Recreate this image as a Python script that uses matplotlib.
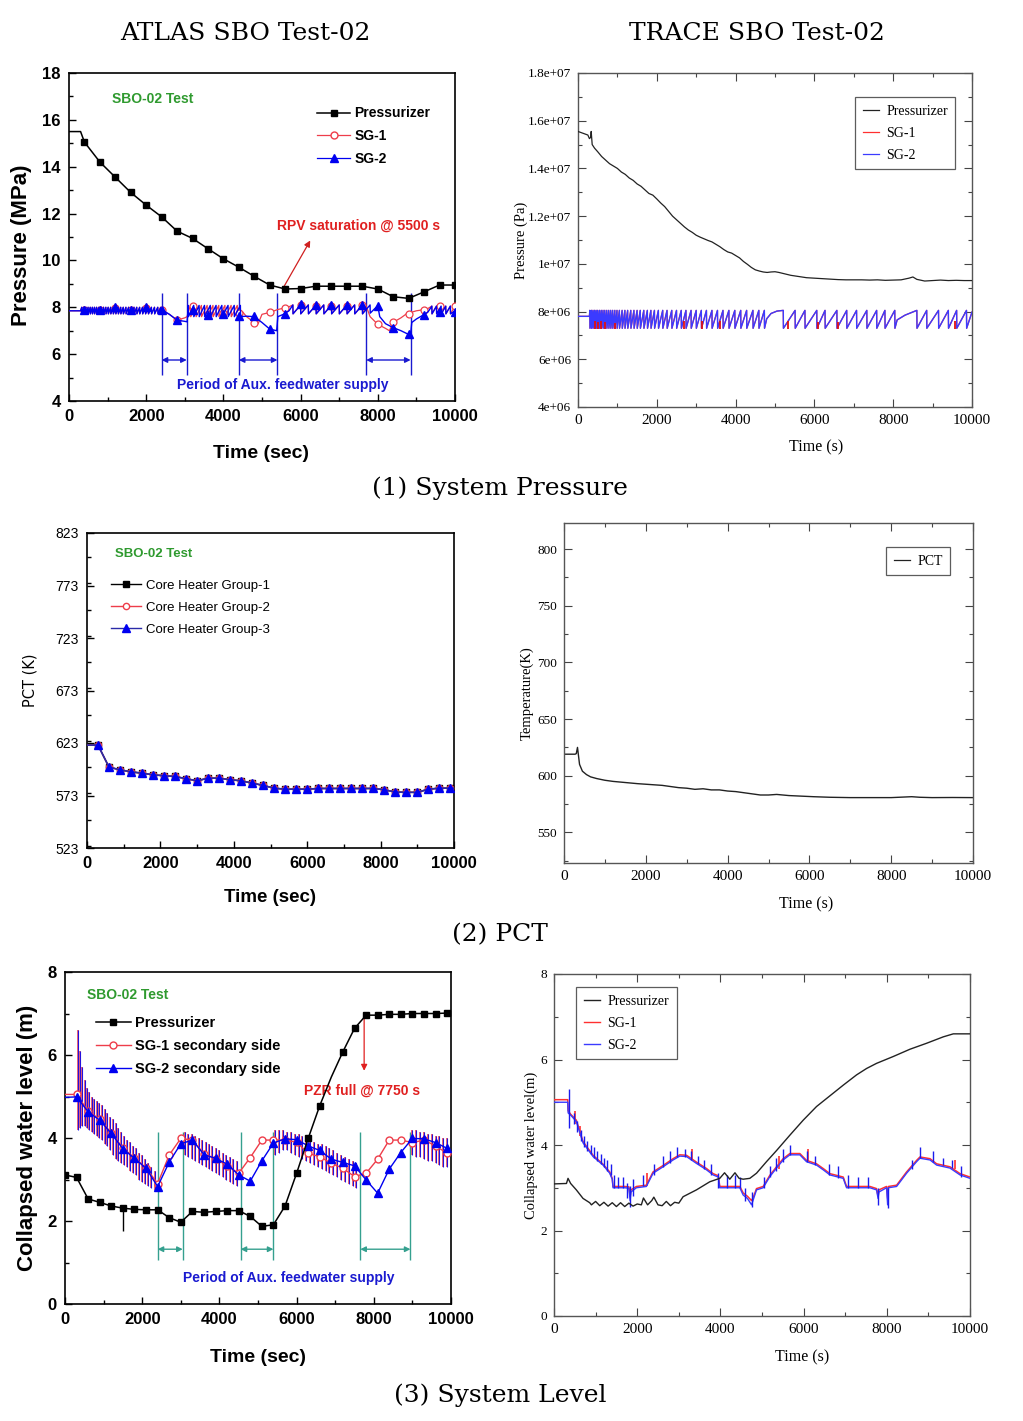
import matplotlib
matplotlib.use("Agg")
import matplotlib.pyplot as plt
from matplotlib.lines import Line2D
from matplotlib.ticker import MultipleLocator

W, H = 1023, 1421

# ---------------- shared ticks ----------------
time_ticks = [0, 2000, 4000, 6000, 8000, 10000]
time_labels = ['0', '2000', '4000', '6000', '8000', '10000']

# ================= (1) ATLAS system pressure [MPa] =================
p1_pzr_t = [0, 300, 400, 800, 1200, 1600, 2000, 2400, 2800, 3200,
            3600, 4000, 4400, 4800, 5200, 5600, 6000, 6400, 6800, 7200,
            7600, 8000, 8400, 8800, 9200, 9600, 10000]
p1_pzr_v = [15.5, 15.5, 15.05, 14.2, 13.55, 12.9, 12.36, 11.86, 11.25, 10.94,
            10.5, 10.07, 9.71, 9.32, 8.95, 8.78, 8.8, 8.9, 8.9, 8.9,
            8.9, 8.78, 8.45, 8.38, 8.66, 8.95, 8.95]

p1_pre_t = [0, 300]
p1_pre_v = [7.85, 7.85]
p1_sawA_drops = [330, 385, 440, 495, 550, 605, 660, 715, 775, 835,
                 895, 955, 1015, 1080, 1145, 1210, 1275, 1340, 1405, 1475,
                 1545, 1615, 1685, 1755, 1830, 1905, 1980, 2055, 2135, 2215,
                 2300, 2380]
p1_sawA_lev = [8.0, 7.72]
p1_sawB2_drops = [3090, 3230, 3370, 3510, 3660, 3810, 3960, 4120, 4280, 4440]
p1_sawB1_drops = [3150, 3290, 3430, 3580, 3730, 3880, 4040, 4200, 4360]
p1_sawB_lev = [8.08, 7.6]
p1_sawC_drops = [5800, 6000, 6200, 6400, 6600, 6800, 7000, 7200, 7400, 7600]
p1_sawC_lev = [8.1, 7.72]
p1_sawD_drops = [9400, 9520, 9640, 9760, 9880]
p1_sawD_lev = [8.05, 7.72]

p1_sg2_afw1_t = [2400, 2600, 2800, 3000, 3060]
p1_sg2_afw1_v = [7.9, 7.7, 7.45, 7.4, 7.38]
p1_sg2_afw2_t = [4600, 4800, 5000, 5200, 5380, 5410, 5570, 5700]
p1_sg2_afw2_v = [7.62, 7.6, 7.35, 7.07, 7.0, 7.6, 7.71, 7.85]
p1_sg2_afw3_t = [7800, 7804, 8000, 8050, 8200, 8400, 8600, 8800, 8850, 8880, 9000, 9200, 9300]
p1_sg2_afw3_v = [8.1, 7.75, 8.07, 7.6, 7.3, 7.13, 7.0, 6.84, 6.86, 7.35, 7.5, 7.69, 7.8]
p1_sg2_end_t = [10000]
p1_sg2_end_v = [7.85]

p1_sg1_afw1_t = [2400, 2600, 2800, 3000, 3060, 3120]
p1_sg1_afw1_v = [7.88, 7.7, 7.45, 7.55, 7.6, 7.95]
p1_sg1_afw2_t = [4500, 4600, 4800, 4900, 5000, 5200, 5400, 5600, 5700]
p1_sg1_afw2_v = [7.8, 7.6, 7.35, 7.3, 7.7, 7.78, 7.9, 7.98, 8.02]
p1_sg1_afw3_t = [7700, 7800, 8000, 8200, 8300, 8400, 8600, 8750, 9000, 9200, 9300]
p1_sg1_afw3_v = [8.05, 7.6, 7.27, 7.1, 7.0, 7.36, 7.55, 7.73, 7.85, 7.9, 7.95]
p1_sg1_end_t = [10000]
p1_sg1_end_v = [8.05]

p1_mk_t = [400, 800, 1200, 1600, 2000, 2400, 2800, 3200, 3600, 4000,
           4400, 4800, 5200, 5600, 6000, 6400, 6800, 7200, 7600, 8000,
           8400, 8800, 9200, 9600, 10000]
p1_sg1_mk = [7.9, 7.9, 7.95, 7.9, 7.95, 7.88, 7.45, 8.05, 7.7, 7.75,
             7.75, 7.35, 7.78, 7.95, 8.1, 8.05, 8.05, 8.05, 8.08, 7.27,
             7.36, 7.73, 7.9, 8.07, 8.05]
p1_sg2_mk = [7.9, 7.9, 8.0, 7.9, 8.0, 7.88, 7.45, 7.9, 7.65, 7.7,
             7.62, 7.62, 7.08, 7.71, 8.12, 8.08, 8.08, 8.08, 8.1, 8.07,
             7.13, 6.84, 7.69, 7.8, 7.8]
p1_afw_start = [2400, 4400, 7700]
p1_afw_end = [3050, 5400, 8850]

# ================= (1) TRACE system pressure [Pa] =================
p2_pzr_t = [0, 250, 290, 320, 335, 360, 420, 500, 600, 700,
            800, 900, 1000, 1100, 1200, 1300, 1400, 1500, 1600, 1700,
            1800, 1900, 2000, 2100, 2200, 2300, 2400, 2500, 2600, 2700,
            2800, 2900, 3000, 3100, 3200, 3300, 3400, 3500, 3600, 3700,
            3800, 3900, 4000, 4100, 4200, 4300, 4400, 4500, 4600, 4700,
            4800, 4900, 5000, 5100, 5200, 5400, 5600, 5800, 6000, 6200,
            6400, 6600, 6800, 7000, 7200, 7400, 7600, 7800, 8000, 8200,
            8400, 8500, 8600, 8800, 9000, 9200, 9400, 9600, 9800, 10000]
p2_pzr_v = [15.55e6, 15.4e6, 15.25e6, 15.3e6, 15.55e6, 15.0e6, 14.85e6, 14.7e6, 14.5e6, 14.35e6,
            14.2e6, 14.1e6, 14.0e6, 13.85e6, 13.75e6, 13.6e6, 13.5e6, 13.35e6, 13.25e6, 13.1e6,
            12.95e6, 12.88e6, 12.72e6, 12.55e6, 12.4e6, 12.2e6, 12.0e6, 11.85e6, 11.7e6, 11.55e6,
            11.42e6, 11.32e6, 11.2e6, 11.12e6, 11.05e6, 10.98e6, 10.92e6, 10.82e6, 10.72e6, 10.6e6,
            10.5e6, 10.45e6, 10.35e6, 10.25e6, 10.1e6, 9.98e6, 9.85e6, 9.75e6, 9.7e6, 9.66e6,
            9.64e6, 9.66e6, 9.67e6, 9.64e6, 9.6e6, 9.52e6, 9.47e6, 9.42e6, 9.40e6, 9.38e6,
            9.36e6, 9.34e6, 9.33e6, 9.33e6, 9.33e6, 9.32e6, 9.33e6, 9.31e6, 9.32e6, 9.33e6,
            9.40e6, 9.45e6, 9.35e6, 9.28e6, 9.30e6, 9.32e6, 9.30e6, 9.31e6, 9.30e6, 9.30e6]
p2_sg_pre_t = [0, 290]
p2_sg_pre_v = [7.8e6, 7.8e6]
p2_drops_a = [300, 340, 380, 420, 460, 500, 545, 590, 635, 680,
              730, 780, 830, 880, 935, 990, 1050, 1120, 1190, 1260,
              1340, 1420, 1500, 1580, 1670, 1760, 1850, 1940, 2040, 2150,
              2260, 2380, 2500, 2620, 2740, 2870, 3000, 3130, 3260, 3400,
              3540, 3680, 3830, 3980, 4130, 4280, 4440, 4590, 4730]
p2_hump1_t = [4790, 4900, 5050]
p2_hump1_v = [7.7e6, 7.92e6, 8.02e6]
p2_drops_b = [5210, 5510, 5760, 6060, 6270, 6570, 6820, 7070, 7330, 7580, 7790, 8040]
p2_hump2_t = [8100, 8300, 8500]
p2_hump2_v = [7.65e6, 7.85e6, 7.98e6]
p2_drops_c = [8600, 8850, 9150, 9400, 9610, 9860]
p2_sg_lev = [8.05e6, 7.3e6]
p2_sg_end_t = [10000]
p2_sg_end_v = [7.98e6]
p2_sg1_spk_t = [420, 500, 590, 680, 950, 2700, 3150, 3610, 5340, 6100, 6600, 9560]
p2_sg1_spk_lo = [7.25e6, 7.25e6, 7.25e6, 7.25e6, 7.25e6, 7.25e6, 7.25e6, 7.25e6, 7.25e6, 7.25e6, 7.25e6, 7.25e6]
p2_sg1_spk_hi = [7.6e6, 7.55e6, 7.6e6, 7.55e6, 7.5e6, 7.6e6, 7.6e6, 7.6e6, 7.6e6, 7.55e6, 7.55e6, 7.6e6]
p2_yticks = [4e6, 6e6, 8e6, 1e7, 1.2e7, 1.4e7, 1.6e7, 1.8e7]
p2_ylabels = ['4e+06', '6e+06', '8e+06', '1e+07', '1.2e+07', '1.4e+07', '1.6e+07', '1.8e+07']

# ================= (2) ATLAS PCT [K] =================
p3_t = [0, 300, 600, 900, 1200, 1500, 1800, 2100, 2400, 2700,
        3000, 3300, 3600, 3900, 4200, 4500, 4800, 5100, 5400, 5700,
        6000, 6300, 6600, 6900, 7200, 7500, 7800, 8100, 8400, 8700,
        9000, 9300, 9600, 9900, 10000]
p3_g3_v = [621, 621, 600, 597.5, 595.5, 594.3, 592.7, 591.8, 591.1, 589,
           587, 589.5, 589.5, 588, 587, 584.8, 582.6, 580, 579, 579,
           579, 579.7, 579.7, 579.7, 579.7, 579.7, 579.7, 578.5, 576.3, 576,
           576, 579, 580, 580, 580]
p3_g1_v = p3_g3_v   # the three heater groups coincide at this resolution
p3_g2_v = p3_g3_v
p3_yticks = [523, 573, 623, 673, 723, 773, 823]
p3_ylabels = ['523', '573', '623', '673', '723', '773', '823']

# ================= (2) TRACE PCT [K] =================
p4_t = [0, 270, 300, 330, 380, 450, 550, 650, 800, 1000,
        1200, 1500, 1800, 2000, 2200, 2400, 2600, 2800, 3000, 3200,
        3400, 3600, 3800, 4000, 4200, 4400, 4600, 4800, 5000, 5200,
        5500, 5800, 6100, 6500, 7000, 7500, 8000, 8500, 8700, 9000,
        9500, 10000]
p4_v = [619, 619, 619.5, 625, 610, 604, 601, 599, 597.5, 596,
        595, 594, 593, 592.5, 592, 591.5, 590.5, 589.5, 589, 588,
        588.5, 587.5, 587.5, 586.5, 586, 585, 584, 583, 583, 583.5,
        582.5, 582, 581.5, 581, 580.7, 580.7, 580.7, 581.5, 581, 580.7,
        580.8, 580.7]
p4_yticks = [550, 600, 650, 700, 750, 800]
p4_ylabels = ['550', '600', '650', '700', '750', '800']

# ================= (3) ATLAS collapsed level [m] =================
p5_t = [0, 300, 600, 900, 1200, 1500, 1800, 2100, 2400, 2700,
        3000, 3300, 3600, 3900, 4200, 4500, 4800, 5100, 5400, 5700,
        6000, 6300, 6600, 6900, 7200, 7500, 7800, 8100, 8400, 8700,
        9000, 9300, 9600, 9900]
p5_pzr_v = [3.11, 3.05, 2.53, 2.45, 2.36, 2.31, 2.28, 2.27, 2.27, 2.08,
            1.97, 2.23, 2.21, 2.23, 2.25, 2.25, 2.11, 1.87, 1.91, 2.36,
            3.15, 3.99, 4.78, 5.47, 6.08, 6.64, 6.96, 6.96, 6.98, 6.98,
            7.0, 7.0, 7.0, 7.01]
p5_sg1_v = [5.05, 5.05, 4.65, 4.45, 4.12, 3.76, 3.52, 3.28, 2.9, 3.59,
            3.99, 3.95, 3.62, 3.5, 3.33, 3.15, 3.53, 3.95, 3.95, 3.95,
            3.9, 3.63, 3.55, 3.39, 3.27, 3.07, 3.15, 3.49, 3.95, 3.95,
            3.89, 3.95, 3.81, 3.63]
p5_sg2_v = [4.98, 4.99, 4.63, 4.43, 4.11, 3.74, 3.51, 3.27, 2.83, 3.42,
            3.86, 3.95, 3.6, 3.51, 3.37, 3.11, 2.96, 3.45, 3.88, 3.98,
            3.96, 3.81, 3.7, 3.49, 3.41, 3.33, 2.99, 2.67, 3.25, 3.65,
            3.99, 3.98, 3.89, 3.75]
p5_spk_t = [340, 390, 450, 510, 570, 630, 690, 750, 820, 890,
            960, 1030, 1100, 1170, 1240, 1310, 1380, 1450, 1520, 1600,
            1680, 1760, 1840, 1920, 2000, 2080, 2160, 2240, 2320, 3100,
            3190, 3280, 3370, 3460, 3550, 3640, 3730, 3820, 3910, 4000,
            4090, 4180, 4270, 4360, 4450, 5450, 5550, 5650, 5750, 5850,
            5950, 6050, 6150, 6250, 6350, 6450, 6550, 6650, 6750, 6850,
            6950, 7050, 7150, 7250, 7350, 7450, 7550, 9000, 9100, 9200,
            9300, 9400, 9500, 9600, 9700, 9800, 9900]
p5_spk_lo = [4.2, 4.25, 4.3, 4.3, 4.25, 4.2, 4.15, 4.1, 4.05, 4.0,
             3.95, 3.85, 3.8, 3.7, 3.6, 3.5, 3.45, 3.4, 3.35, 3.3,
             3.2, 3.15, 3.1, 3.0, 2.95, 2.9, 2.85, 2.8, 2.75, 3.6,
             3.55, 3.5, 3.45, 3.4, 3.35, 3.3, 3.25, 3.2, 3.15, 3.1,
             3.05, 3.0, 2.95, 2.9, 2.85, 3.6, 3.65, 3.7, 3.7, 3.65,
             3.6, 3.55, 3.5, 3.45, 3.4, 3.35, 3.3, 3.25, 3.2, 3.15,
             3.1, 3.05, 3.0, 2.95, 2.9, 2.85, 2.8, 3.6, 3.55, 3.55,
             3.5, 3.45, 3.45, 3.4, 3.35, 3.3, 3.3]
p5_spk_hi = [6.6, 6.1, 5.7, 5.4, 5.2, 5.1, 5.0, 4.95, 4.9, 4.85,
             4.8, 4.7, 4.6, 4.5, 4.45, 4.35, 4.25, 4.15, 4.05, 3.95,
             3.9, 3.8, 3.75, 3.65, 3.6, 3.5, 3.4, 3.3, 3.2, 4.15,
             4.1, 4.1, 4.05, 4.0, 3.95, 3.9, 3.85, 3.8, 3.75, 3.7,
             3.65, 3.6, 3.55, 3.5, 3.45, 4.2, 4.2, 4.2, 4.15, 4.15,
             4.1, 4.1, 4.05, 4.0, 3.95, 3.9, 3.85, 3.85, 3.8, 3.75,
             3.7, 3.65, 3.6, 3.55, 3.5, 3.45, 3.4, 4.2, 4.2, 4.15,
             4.15, 4.1, 4.1, 4.05, 4.05, 4.0, 4.0]
p5_pzr_spk_t = [1490]
p5_pzr_spk_lo = [1.75]
p5_pzr_spk_hi = [2.31]
p5_afw_start = [2400, 4550, 7650]
p5_afw_end = [3050, 5400, 8950]

# ================= (3) TRACE collapsed level [m] =================
p6_pzr_t = [0, 300, 337, 400, 537, 698, 858, 900, 1000, 1100,
            1200, 1300, 1400, 1500, 1600, 1700, 1800, 1900, 2000, 2100,
            2150, 2250, 2350, 2400, 2500, 2600, 2700, 2800, 2900, 3000,
            3103, 3424, 3745, 3985, 4100, 4226, 4350, 4450, 4547, 4707,
            4868, 5108, 5349, 5670, 5990, 6311, 6632, 6953, 7273, 7514,
            7754, 8155, 8556, 8957, 9358, 9599, 10000]
p6_pzr_v = [3.09, 3.1, 3.22, 3.1, 2.95, 2.75, 2.65, 2.6, 2.68, 2.58,
            2.66, 2.57, 2.65, 2.56, 2.65, 2.56, 2.64, 2.57, 2.62, 2.6,
            2.76, 2.6, 2.7, 2.78, 2.6, 2.58, 2.68, 2.58, 2.66, 2.64,
            2.79, 2.95, 3.14, 3.22, 3.35, 3.2, 3.35, 3.22, 3.2, 3.22,
            3.34, 3.61, 3.87, 4.23, 4.58, 4.9, 5.15, 5.4, 5.64, 5.79,
            5.91, 6.07, 6.24, 6.38, 6.53, 6.6, 6.6]
p6_sg_t = [0, 330, 340, 400, 537, 698, 938, 1179, 1339, 1400,
           1419, 1700, 1800, 1830, 1850, 1981, 2221, 2381, 2622, 2863,
           3023, 3184, 3424, 3665, 3825, 3950, 3985, 4467, 4547, 4650,
           4750, 4800, 4868, 5028, 5188, 5349, 5509, 5670, 5910, 6070,
           6311, 6471, 6632, 6953, 7033, 7594, 7754, 7790, 7810, 7995,
           8020, 8040, 8236, 8476, 8716, 8797, 9038, 9198, 9519, 9760,
           10000]
p6_sg2_v = [5.0, 5.0, 4.75, 4.7, 4.55, 4.05, 3.73, 3.53, 3.34, 3.2,
            3.0, 3.0, 2.99, 2.7, 2.9, 3.0, 3.03, 3.34, 3.49, 3.65,
            3.74, 3.73, 3.57, 3.42, 3.3, 3.25, 3.0, 3.0, 2.83, 2.75,
            2.6, 2.75, 2.95, 3.0, 3.26, 3.46, 3.65, 3.77, 3.77, 3.61,
            3.53, 3.42, 3.3, 3.22, 3.0, 3.0, 2.95, 2.75, 2.9, 3.0,
            2.6, 3.0, 3.03, 3.34, 3.61, 3.69, 3.65, 3.53, 3.46, 3.3,
            3.22]
p6_sg1_v = [5.06, 5.06, 4.8, 4.72, 4.58, 4.08, 3.76, 3.55, 3.37, 3.22,
            3.03, 3.03, 3.02, 2.8, 2.95, 3.03, 3.06, 3.37, 3.52, 3.68,
            3.77, 3.76, 3.6, 3.45, 3.33, 3.28, 3.03, 3.03, 2.88, 2.8,
            2.7, 2.8, 2.98, 3.03, 3.29, 3.49, 3.68, 3.8, 3.8, 3.64,
            3.56, 3.45, 3.33, 3.25, 3.03, 3.03, 2.98, 2.8, 2.95, 3.03,
            2.75, 3.03, 3.06, 3.37, 3.64, 3.72, 3.68, 3.56, 3.49, 3.33,
            3.25]
p6_spk_t = [360, 480, 560, 640, 720, 800, 880, 960, 1040, 1120,
            1200, 1280, 1360, 1450, 1550, 1650, 1750, 1830, 1900, 2150,
            2400, 2620, 2780, 2950, 3150, 3300, 3450, 3600, 3780, 3950,
            4150, 4350, 4480, 4600, 4750, 5050, 5200, 5330, 5500, 5680,
            6080, 6280, 6600, 6830, 7060, 7300, 7540, 7790, 8020, 8600,
            8800, 9100, 9340, 9570, 9780]
p6_spk_lo = [4.4, 4.5, 4.3, 4.1, 3.95, 3.85, 3.78, 3.7, 3.62, 3.55,
             3.48, 3.4, 3.3, 3.0, 3.0, 3.0, 2.75, 2.55, 2.8, 3.03,
             3.3, 3.48, 3.58, 3.72, 3.72, 3.65, 3.55, 3.45, 3.3, 3.0,
             3.0, 3.0, 3.0, 2.7, 2.55, 3.0, 3.25, 3.4, 3.6, 3.77,
             3.6, 3.53, 3.3, 3.22, 3.0, 3.0, 3.0, 2.6, 2.52, 3.45,
             3.69, 3.6, 3.53, 3.46, 3.25]
p6_spk_hi = [5.3, 4.75, 4.55, 4.35, 4.2, 4.1, 4.0, 3.95, 3.85, 3.78,
             3.7, 3.65, 3.55, 3.3, 3.25, 3.25, 3.1, 3.05, 3.2, 3.3,
             3.55, 3.75, 3.85, 3.95, 3.9, 3.85, 3.75, 3.65, 3.55, 3.35,
             3.3, 3.3, 3.25, 3.0, 2.9, 3.25, 3.5, 3.7, 3.9, 4.0,
             3.85, 3.75, 3.55, 3.5, 3.3, 3.25, 3.25, 3.0, 3.0, 3.65,
             3.95, 3.85, 3.7, 3.65, 3.5]
p6_rspk_t = [500, 620, 2230, 3310, 5420, 6110, 9650]
p6_rspk_lo = [4.5, 4.2, 3.05, 3.65, 3.45, 3.62, 3.43]
p6_rspk_hi = [4.8, 4.45, 3.35, 3.9, 3.75, 3.9, 3.65]
level_ticks = [0, 2, 4, 6, 8]
level_labels = ['0', '2', '4', '6', '8']
p1_yticks = [4, 6, 8, 10, 12, 14, 16, 18]
p1_ylabels = ['4', '6', '8', '10', '12', '14', '16', '18']

# ---------------- helpers ----------------
SANS = ['Liberation Sans', 'DejaVu Sans']
SERIF = ['Liberation Serif', 'DejaVu Serif']
TITLEF = ['DejaVu Serif']
GREEN = '#2f9a2f'
AFWBLUE = '#1a1ad0'
TEAL = '#35a08f'
A_RED = '#ee3d4a'
A_BLUE = '#0000f0'
T_RED = '#ff3030'
T_BLUE = '#3b3bff'
T_BLACK = '#222222'


def saw(drops, hi, lo):
    t, v = [], []
    for d in drops:
        t += [d, d + 4]
        v += [hi, lo]
    return t, v


def cat(*parts):
    t, v = [], []
    for pt, pv in parts:
        t += list(pt)
        v += list(pv)
    return t, v


def rect(l, t, r, b):
    return [l / W, 1 - b / H, (r - l) / W, (b - t) / H]


fig = plt.figure(figsize=(W / 100, H / 100), dpi=100)
fig.patch.set_facecolor('white')


def ftext(x, y, s, **kw):
    kw.setdefault('ha', 'center')
    kw.setdefault('va', 'center')
    fig.text(x / W, 1 - y / H, s, **kw)


def style_atlas(ax, yticks, ylabels, ylim, yminor, yfont):
    ax.set_xlim(0, 10000)
    ax.set_ylim(*ylim)
    ax.set_xticks(time_ticks, time_labels, fontsize=12, fontweight='bold', family=SANS)
    ax.set_yticks(yticks, ylabels, **yfont)
    ax.xaxis.set_minor_locator(MultipleLocator(1000))
    ax.yaxis.set_minor_locator(MultipleLocator(yminor))
    ax.tick_params(which='both', direction='in', top=False, right=False, width=1.0)
    ax.tick_params(which='major', length=5, pad=6)
    ax.tick_params(which='minor', length=3)
    for s in ax.spines.values():
        s.set_linewidth(1.2)


def style_trace(ax, yticks, ylabels, ylim, yminor):
    ax.set_xlim(0, 10000)
    ax.set_ylim(*ylim)
    ax.set_xticks(time_ticks, time_labels, fontsize=11, family=SERIF)
    ax.set_yticks(yticks, ylabels, fontsize=9.5, family=SERIF)
    ax.xaxis.set_minor_locator(MultipleLocator(1000))
    ax.yaxis.set_minor_locator(MultipleLocator(yminor))
    ax.tick_params(which='both', direction='in', top=True, right=True, width=0.8,
                   color='#444444')
    ax.tick_params(which='major', length=6, pad=5)
    ax.tick_params(which='minor', length=3)
    for s in ax.spines.values():
        s.set_linewidth(1.0)
        s.set_color('#555555')


def trace_legend(ax, handles, labels, anchor):
    lg = ax.legend(handles, labels, loc='upper left', bbox_to_anchor=anchor,
                   borderaxespad=0, fancybox=False, edgecolor='#333333',
                   handlelength=1.2, handletextpad=0.5, labelspacing=0.65,
                   borderpad=0.55, prop=dict(family=SERIF, size=10))
    lg.get_frame().set_linewidth(0.9)
    return lg


# ================= Panel 1 =================
ax1 = fig.add_axes(rect(69, 73, 455, 401))
style_atlas(ax1, p1_yticks, p1_ylabels, (4, 18), 1,
            dict(fontsize=12, fontweight='bold', family=SANS))
sg1 = cat((p1_pre_t, p1_pre_v), saw(p1_sawA_drops, *p1_sawA_lev),
          (p1_sg1_afw1_t, p1_sg1_afw1_v), saw(p1_sawB1_drops, *p1_sawB_lev),
          (p1_sg1_afw2_t, p1_sg1_afw2_v), saw(p1_sawC_drops, *p1_sawC_lev),
          (p1_sg1_afw3_t, p1_sg1_afw3_v), saw(p1_sawD_drops, *p1_sawD_lev),
          (p1_sg1_end_t, p1_sg1_end_v))
sg2 = cat((p1_pre_t, p1_pre_v), saw(p1_sawA_drops, *p1_sawA_lev),
          (p1_sg2_afw1_t, p1_sg2_afw1_v), saw(p1_sawB2_drops, *p1_sawB_lev),
          (p1_sg2_afw2_t, p1_sg2_afw2_v), saw(p1_sawC_drops, *p1_sawC_lev),
          (p1_sg2_afw3_t, p1_sg2_afw3_v), saw(p1_sawD_drops, *p1_sawD_lev),
          (p1_sg2_end_t, p1_sg2_end_v))
ax1.plot(sg1[0], sg1[1], color=A_RED, lw=0.9, zorder=3)
ax1.plot(p1_mk_t, p1_sg1_mk, ls='none', marker='o', ms=5, mfc='white', mec=A_RED,
         mew=0.9, zorder=4)
ax1.plot(sg2[0], sg2[1], color=A_BLUE, lw=1.0, zorder=5)
ax1.plot(p1_mk_t, p1_sg2_mk, ls='none', marker='^', ms=6, color=A_BLUE, zorder=6)
ax1.plot(p1_pzr_t, p1_pzr_v, color='black', lw=1.1, marker='s', ms=5,
         markevery=slice(2, None), zorder=7)
ax1.vlines(p1_afw_start + p1_afw_end, 5.1, 8.6, color=AFWBLUE, lw=1.0, zorder=2)
for a, b in zip(p1_afw_start, p1_afw_end):
    ax1.annotate('', xy=(a, 5.75), xytext=(b, 5.75),
                 arrowprops=dict(arrowstyle='<|-|>', color=AFWBLUE, lw=1.0,
                                 mutation_scale=8, shrinkA=0, shrinkB=0))
ax1.text(5535, 4.7, 'Period of Aux. feedwater supply', color=AFWBLUE, fontsize=10,
         fontweight='bold', family=SANS, ha='center', va='center')
ax1.annotate('', xy=(6250, 10.85), xytext=(5540, 8.8),
             arrowprops=dict(arrowstyle='-|>', color='#d02020', lw=0.9,
                             mutation_scale=9, shrinkA=0, shrinkB=0))
ax1.text(7490, 11.49, 'RPV saturation @ 5500 s', color='#e02020', fontsize=10,
         fontweight='bold', family=SANS, ha='center', va='center')
ax1.text(0.111, 0.921, 'SBO-02 Test', transform=ax1.transAxes, color=GREEN,
         fontsize=10, fontweight='bold', family=SANS, ha='left', va='center')
h1 = [Line2D([], [], color='black', marker='s', ms=5, lw=1.1),
      Line2D([], [], color=A_RED, marker='o', ms=5, mfc='white', mec=A_RED, lw=0.9),
      Line2D([], [], color=A_BLUE, marker='^', ms=6, lw=0.9)]
ax1.legend(h1, ['Pressurizer', 'SG-1', 'SG-2'], loc='upper left',
           bbox_to_anchor=(0.628, 0.915), frameon=False, borderaxespad=0,
           handlelength=2.4, handletextpad=0.3, labelspacing=0.62,
           prop=dict(family=SANS, weight='bold', size=10))
ftext(22, 245, 'Pressure (MPa)', rotation=90, fontsize=16, fontweight='bold', family=SANS)
ftext(261, 453, 'Time (sec)', fontsize=14, fontweight='bold', family=SANS)

# ================= Panel 2 =================
ax2 = fig.add_axes(rect(578, 73, 972, 407))
style_trace(ax2, p2_yticks, p2_ylabels, (4e6, 1.8e7), 1e6)
sgT = cat((p2_sg_pre_t, p2_sg_pre_v), saw(p2_drops_a, *p2_sg_lev),
          (p2_hump1_t, p2_hump1_v), saw(p2_drops_b, *p2_sg_lev),
          (p2_hump2_t, p2_hump2_v), saw(p2_drops_c, *p2_sg_lev),
          (p2_sg_end_t, p2_sg_end_v))
ax2.plot(sgT[0], sgT[1], color=T_RED, lw=0.9, zorder=3)
ax2.plot(sgT[0], sgT[1], color=T_BLUE, lw=1.0, zorder=4)
ax2.vlines(p2_sg1_spk_t, p2_sg1_spk_lo, p2_sg1_spk_hi, color='#e01010', lw=1.3, zorder=5)
ax2.plot(p2_pzr_t, p2_pzr_v, color=T_BLACK, lw=0.9, zorder=6)
h2 = [Line2D([], [], color=T_BLACK, lw=0.9), Line2D([], [], color=T_RED, lw=0.9),
      Line2D([], [], color=T_BLUE, lw=0.9)]
trace_legend(ax2, h2, ['Pressurizer', 'SG-1', 'SG-2'], (0.703, 0.928))
ftext(521, 240, 'Pressure (Pa)', rotation=90, fontsize=10.5, family=SERIF)
ftext(816, 447, 'Time (s)', fontsize=11.5, family=SERIF)

# ================= Panel 3 =================
ax3 = fig.add_axes(rect(87, 533, 454, 848))
style_atlas(ax3, p3_yticks, p3_ylabels, (523, 823), 25,
            dict(fontsize=10, family=['Liberation Sans Narrow', 'Liberation Sans']))
mk3 = list(range(1, 34))
ax3.plot(p3_t, p3_g1_v, color='black', lw=1.0, marker='s', ms=4.5, markevery=mk3, zorder=3)
ax3.plot(p3_t, p3_g2_v, color=A_RED, lw=1.0, marker='o', ms=4.5, mfc='white',
         markevery=mk3, zorder=4)
ax3.plot(p3_t, p3_g3_v, color='#2a2aa8', lw=1.2, marker='^', ms=6, mfc=A_BLUE,
         mec=A_BLUE, markevery=mk3, zorder=5)
ax3.text(0.076, 0.933, 'SBO-02 Test', transform=ax3.transAxes, color=GREEN,
         fontsize=9.5, fontweight='bold', family=SANS, ha='left', va='center')
h3 = [Line2D([], [], color='black', marker='s', ms=4.5, lw=1.0),
      Line2D([], [], color=A_RED, marker='o', ms=4.5, mfc='white', lw=1.0),
      Line2D([], [], color='#2a2aa8', marker='^', ms=5.5, mfc=A_BLUE, mec=A_BLUE, lw=1.0)]
ax3.legend(h3, ['Core Heater Group-1', 'Core Heater Group-2', 'Core Heater Group-3'],
           loc='upper left', bbox_to_anchor=(0.05, 0.868), frameon=False,
           borderaxespad=0, handlelength=2.3, handletextpad=0.35, labelspacing=0.72,
           prop=dict(family=SANS, size=9.5))
ftext(30, 680, 'PCT (K)', rotation=90, fontsize=10.5, family=['DejaVu Sans'])
ftext(270, 897, 'Time (sec)', fontsize=13.5, fontweight='bold', family=SANS)

# ================= Panel 4 =================
ax4 = fig.add_axes(rect(564, 523, 973, 863))
style_trace(ax4, p4_yticks, p4_ylabels, (523, 823), 25)
ax4.plot(p4_t, p4_v, color=T_BLACK, lw=1.0)
trace_legend(ax4, [Line2D([], [], color=T_BLACK, lw=0.9)], ['PCT'], (0.787, 0.929))
ftext(527, 693, 'Temperature(K)', rotation=90, fontsize=10.5, family=SERIF)
ftext(806, 904, 'Time (s)', fontsize=11.5, family=SERIF)

# ================= Panel 5 =================
ax5 = fig.add_axes(rect(65, 972, 451, 1304))
style_atlas(ax5, level_ticks, level_labels, (0, 8), 1,
            dict(fontsize=12, fontweight='bold', family=SANS))
ax5.vlines(p5_spk_t, p5_spk_lo, p5_spk_hi, color=A_RED, lw=1.1, zorder=3)
ax5.vlines(p5_spk_t, p5_spk_lo, p5_spk_hi, color=A_BLUE, lw=0.8, alpha=0.85, zorder=4)
ax5.plot(p5_t, p5_sg1_v, color=A_RED, lw=1.0, marker='o', ms=5, mfc='white',
         mec=A_RED, markevery=slice(1, None), zorder=5)
ax5.plot(p5_t, p5_sg2_v, color=A_BLUE, lw=1.0, marker='^', ms=6,
         markevery=slice(1, None), zorder=6)
ax5.vlines(p5_pzr_spk_t, p5_pzr_spk_lo, p5_pzr_spk_hi, color='black', lw=1.0, zorder=6)
ax5.plot(p5_t, p5_pzr_v, color='black', lw=1.1, marker='s', ms=5,
         markevery=[i for i in range(len(p5_t)) if i != 23], zorder=7)
ax5.vlines(p5_afw_start + p5_afw_end, 1.05, 4.15, color=TEAL, lw=1.0, zorder=2)
for a, b in zip(p5_afw_start, p5_afw_end):
    ax5.annotate('', xy=(a, 1.32), xytext=(b, 1.32),
                 arrowprops=dict(arrowstyle='<|-|>', color=TEAL, lw=1.0,
                                 mutation_scale=8, shrinkA=0, shrinkB=0))
ax5.text(5790, 0.62, 'Period of Aux. feedwater supply', color=AFWBLUE, fontsize=10,
         fontweight='bold', family=SANS, ha='center', va='center')
ax5.annotate('', xy=(7750, 5.62), xytext=(7750, 6.98),
             arrowprops=dict(arrowstyle='-|>', color='#e02020', lw=0.9,
                             mutation_scale=9, shrinkA=0, shrinkB=0))
ax5.text(7690, 5.15, 'PZR full @ 7750 s', color='#e02020', fontsize=10,
         fontweight='bold', family=SANS, ha='center', va='center')
ax5.text(0.057, 0.931, 'SBO-02 Test', transform=ax5.transAxes, color=GREEN,
         fontsize=10, fontweight='bold', family=SANS, ha='left', va='center')
h5 = [Line2D([], [], color='black', marker='s', ms=5, lw=1.1),
      Line2D([], [], color=A_RED, marker='o', ms=5, mfc='white', mec=A_RED, lw=1.0),
      Line2D([], [], color=A_BLUE, marker='^', ms=6, lw=1.0)]
ax5.legend(h5, ['Pressurizer', 'SG-1 secondary side', 'SG-2 secondary side'],
           loc='upper left', bbox_to_anchor=(0.065, 0.886), frameon=False,
           borderaxespad=0, handlelength=2.4, handletextpad=0.3, labelspacing=0.62,
           prop=dict(family=SANS, weight='bold', size=10.5))
ftext(28, 1138, 'Collapsed water level (m)', rotation=90, fontsize=16,
      fontweight='bold', family=SANS)
ftext(258, 1357, 'Time (sec)', fontsize=14, fontweight='bold', family=SANS)

# ================= Panel 6 =================
ax6 = fig.add_axes(rect(554, 974, 970, 1316))
style_trace(ax6, level_ticks, level_labels, (0, 8), 1)
ax6.plot(p6_sg_t, p6_sg1_v, color=T_RED, lw=1.1, zorder=3)
ax6.vlines(p6_rspk_t, p6_rspk_lo, p6_rspk_hi, color=T_RED, lw=1.2, zorder=3)
ax6.plot(p6_sg_t, p6_sg2_v, color=T_BLUE, lw=1.0, zorder=4)
ax6.vlines(p6_spk_t, p6_spk_lo, p6_spk_hi, color='#1a1aee', lw=1.0, zorder=4)
ax6.plot(p6_pzr_t, p6_pzr_v, color=T_BLACK, lw=1.0, zorder=5)
h6 = [Line2D([], [], color=T_BLACK, lw=1.0), Line2D([], [], color=T_RED, lw=1.0),
      Line2D([], [], color=T_BLUE, lw=1.0)]
trace_legend(ax6, h6, ['Pressurizer', 'SG-1', 'SG-2'], (0.053, 0.962))
ftext(531, 1145, 'Collapsed water level(m)', rotation=90, fontsize=10.5, family=SERIF)
ftext(802, 1357, 'Time (s)', fontsize=11.5, family=SERIF)

# ================= titles & captions =================
ftext(245, 33, 'ATLAS SBO Test-02', fontsize=18, family=TITLEF)
ftext(757, 33, 'TRACE SBO Test-02', fontsize=18, family=TITLEF)
ftext(500, 488, '(1) System Pressure', fontsize=18, family=TITLEF)
ftext(500, 935, '(2) PCT', fontsize=18, family=TITLEF)
ftext(500, 1395, '(3) System Level', fontsize=18, family=TITLEF)

fig.savefig('out.png', dpi=100, facecolor='white')
